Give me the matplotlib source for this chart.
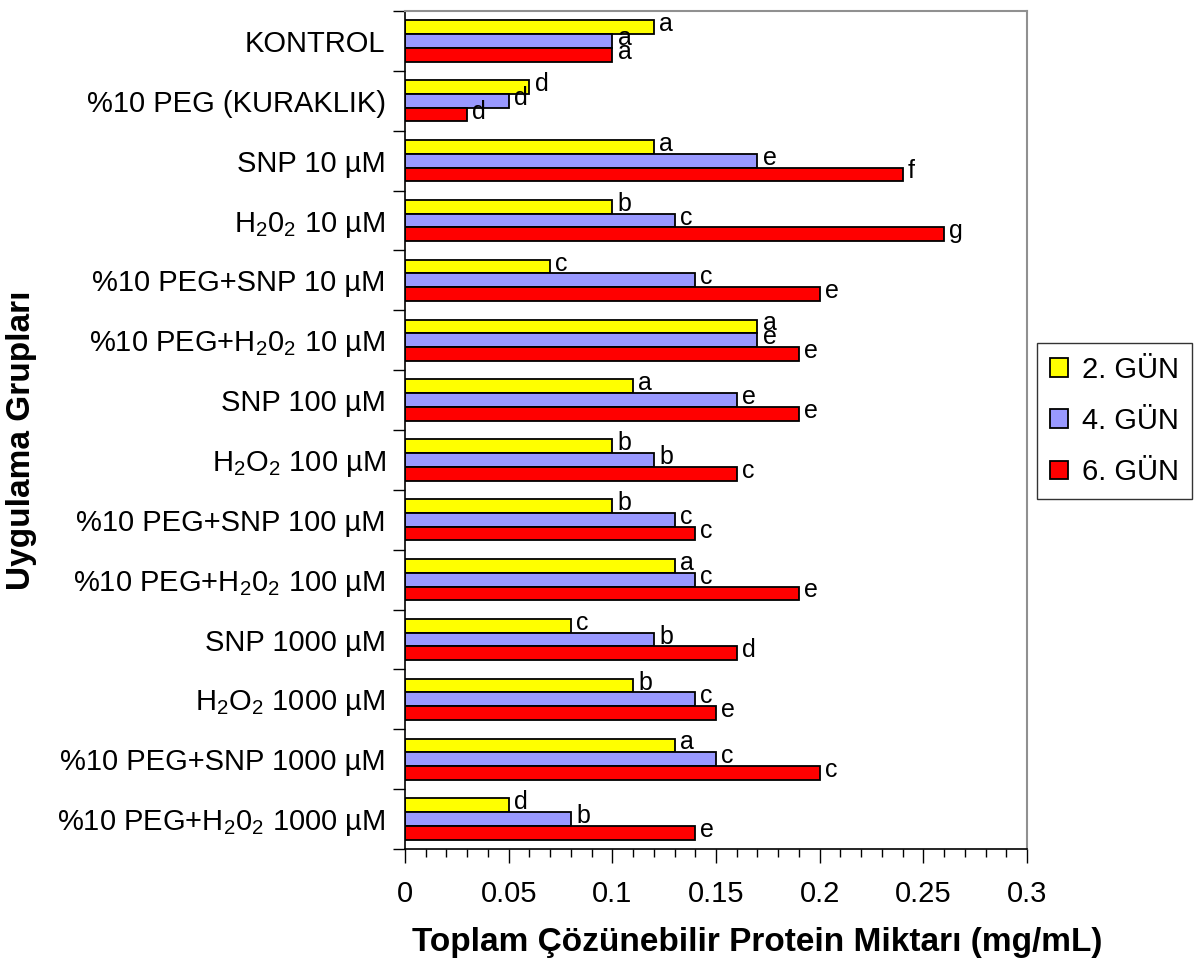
import numpy as np
import matplotlib
matplotlib.use("Agg")
import matplotlib.pyplot as plt
from matplotlib.ticker import MultipleLocator, FixedLocator

plt.rcParams['font.family'] = ['Liberation Sans', 'DejaVu Sans']
plt.rcParams['mathtext.fontset'] = 'custom'
plt.rcParams['mathtext.rm'] = 'Liberation Sans'
plt.rcParams['mathtext.it'] = 'Liberation Sans:italic'
plt.rcParams['mathtext.bf'] = 'Liberation Sans:bold'

S = r"$\mathregular{_2}$"
groups = [
    "KONTROL",
    "%10 PEG (KURAKLIK)",
    "SNP 10 µM",
    "H" + S + "0" + S + " 10 µM",
    "%10 PEG+SNP 10 µM",
    "%10 PEG+H" + S + "0" + S + " 10 µM",
    "SNP 100 µM",
    "H" + S + "O" + S + " 100 µM",
    "%10 PEG+SNP 100 µM",
    "%10 PEG+H" + S + "0" + S + " 100 µM",
    "SNP 1000 µM",
    "H" + S + "O" + S + " 1000 µM",
    "%10 PEG+SNP 1000 µM",
    "%10 PEG+H" + S + "0" + S + " 1000 µM",
]
series = ["2. GÜN", "4. GÜN", "6. GÜN"]
day2 = [0.12, 0.06, 0.12, 0.10, 0.07, 0.17, 0.11, 0.10, 0.10, 0.13, 0.08, 0.11, 0.13, 0.05]
day4 = [0.10, 0.05, 0.17, 0.13, 0.14, 0.17, 0.16, 0.12, 0.13, 0.14, 0.12, 0.14, 0.15, 0.08]
day6 = [0.10, 0.03, 0.24, 0.26, 0.20, 0.19, 0.19, 0.16, 0.14, 0.19, 0.16, 0.15, 0.20, 0.14]
let2 = ["a", "d", "a", "b", "c", "a", "a", "b", "b", "a", "c", "b", "a", "d"]
let4 = ["a", "d", "e", "c", "c", "e", "e", "b", "c", "c", "b", "c", "c", "b"]
let6 = ["a", "d", "f", "g", "e", "e", "e", "c", "c", "e", "d", "e", "c", "e"]
xticks = [0, 0.05, 0.1, 0.15, 0.2, 0.25, 0.3]
xticklabels = ["0", "0.05", "0.1", "0.15", "0.2", "0.25", "0.3"]

colors = ["#FFFF00", "#9999FF", "#FF0000"]

fig = plt.figure(figsize=(11.97, 9.67), dpi=100)
ax = fig.add_axes([405 / 1197, 1 - 849 / 967, 622 / 1197, 838 / 967])

y = np.arange(len(groups))
h = 0.23
vals = [day2, day4, day6]
lets = [let2, let4, let6]
for k in range(3):
    yy = y + (k - 1) * h
    ax.barh(yy, vals[k], height=h, color=colors[k], edgecolor="black",
            linewidth=1.3, label=series[k])
    for yi, v, t in zip(yy, vals[k], lets[k]):
        ax.text(v + 0.0025, yi - 0.05, t, fontsize=18, va="center", ha="left")

ax.set_xlim(0, 0.3)
ax.set_ylim(len(groups) - 0.5, -0.5)
ax.set_xticks(xticks)
ax.set_xticklabels(xticklabels, fontsize=21)
ax.xaxis.set_minor_locator(MultipleLocator(0.01))
ax.tick_params(axis="x", which="major", length=10, width=1, pad=12)
ax.tick_params(axis="x", which="minor", length=6, width=1)

ax.set_yticks(y)
ax.set_yticklabels(groups, fontsize=21)
ax.tick_params(axis="y", which="major", length=0, pad=14)
ax.yaxis.set_minor_locator(FixedLocator(np.arange(len(groups) + 1) - 0.5))
ax.tick_params(axis="y", which="minor", length=9, width=1)

ax.spines["top"].set_color("#909090")
ax.spines["right"].set_color("#909090")
ax.spines["top"].set_linewidth(1.5)
ax.spines["right"].set_linewidth(1.5)
ax.spines["left"].set_linewidth(1.2)
ax.spines["bottom"].set_linewidth(1.2)

fig.text(757 / 1197, 1 - 943 / 967, "Toplam Çözünebilir Protein Miktarı (mg/mL)",
         fontsize=24, fontweight="bold", ha="center", va="center")
fig.text(22 / 1197, 1 - 440 / 967, "Uygulama Grupları", fontsize=24,
         fontweight="bold", rotation=90, ha="center", va="center")

leg = fig.legend(loc="center left", bbox_to_anchor=(1037 / 1197, 1 - 421 / 967),
                 fontsize=21, frameon=True, fancybox=False, edgecolor="black",
                 handlelength=0.6, handleheight=0.6, handletextpad=0.5,
                 labelspacing=0.8, borderpad=0.45, borderaxespad=0)
leg.get_frame().set_linewidth(1)

fig.savefig("out.png", dpi=100)
